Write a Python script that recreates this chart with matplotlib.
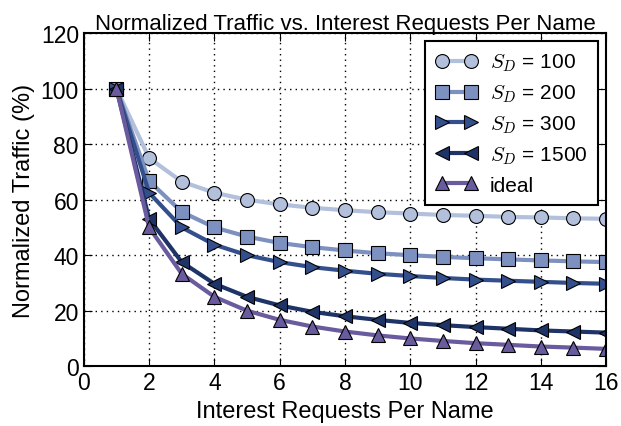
import matplotlib
matplotlib.use("Agg")
import matplotlib.pyplot as plt
import numpy as np

plt.rcParams['font.family'] = ['Liberation Sans', 'DejaVu Sans']
plt.rcParams['mathtext.fontset'] = 'cm'

x = np.arange(1, 17)

sd100 = [100, 75, 66.5, 62.5, 60, 58.3, 57.1, 56.2, 55.5, 55, 54.5, 54.2, 53.8, 53.6, 53.3, 53.1]
sd200 = [100, 66.7, 55.6, 50, 46.7, 44.4, 42.9, 41.7, 40.7, 40, 39.4, 38.9, 38.5, 38.1, 37.8, 37.5]
sd300 = [100, 62.5, 50, 43.8, 40, 37.5, 35.7, 34.4, 33.3, 32.5, 31.8, 31.2, 30.8, 30.4, 30, 29.7]
sd1500 = [100, 53.1, 37.5, 29.7, 25, 21.9, 19.6, 18, 16.7, 15.6, 14.8, 14.1, 13.5, 12.9, 12.5, 12.1]
ideal = [100, 50, 33.3, 25, 20, 16.7, 14.3, 12.5, 11.1, 10, 9.1, 8.3, 7.7, 7.1, 6.7, 6.25]

series = [sd100, sd200, sd300, sd1500, ideal]
labels = ['$S_D$ = 100', '$S_D$ = 200', '$S_D$ = 300', '$S_D$ = 1500', 'ideal']
colors = ['#b3c0dc', '#7d91c0', '#34508c', '#1e3366', '#6a5b9e']
markers = ['o', 's', '>', '<', '^']

fig, ax = plt.subplots(figsize=(6.21, 4.27), dpi=100)
fig.subplots_adjust(left=0.135, right=0.976, top=0.92, bottom=0.14)

for y, lab, c, m in zip(series, labels, colors, markers):
    ax.plot(x, y, color=c, linewidth=3, marker=m, markersize=10,
            markerfacecolor=c, markeredgecolor='black', markeredgewidth=0.8,
            label=lab)

ax.set_xlim(0, 16)
ax.set_ylim(0, 120)
ax.set_xticks(range(0, 17, 2))
ax.set_yticks(range(0, 121, 20))
ax.grid(True, color='black', linestyle=(0, (1, 3)), linewidth=1)
ax.tick_params(direction='in', top=True, right=True, labelsize=16.5, length=6)
for s in ax.spines.values():
    s.set_linewidth(1.5)

ax.set_xlabel('Interest Requests Per Name', fontsize=17)
ax.set_ylabel('Normalized Traffic (%)', fontsize=17)
ax.set_title('Normalized Traffic vs. Interest Requests Per Name', fontsize=16, pad=3)

leg = ax.legend(loc='upper right', fontsize=15, fancybox=False, framealpha=1,
                edgecolor='black', numpoints=2, handlelength=2.0,
                labelspacing=0.45, borderpad=0.5, handletextpad=0.6,
                borderaxespad=0.4)
leg.get_frame().set_linewidth(1.5)

fig.savefig('out.png', dpi=100)
